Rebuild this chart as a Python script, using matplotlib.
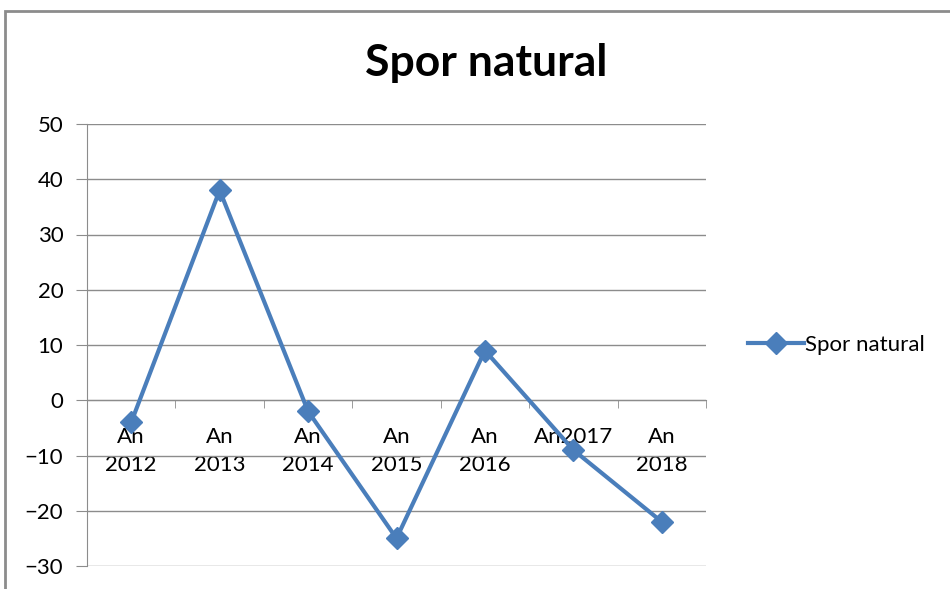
import matplotlib.pyplot as plt
from matplotlib.patches import Rectangle
import numpy as np

# datele graficului
categories = ["An\n2012", "An\n2013", "An\n2014", "An\n2015", "An\n2016", "An2017", "An\n2018"]
values = [-4, 38, -2, -25, 9, -9, -22]
series_name = "Spor natural"
y_ticks = [-30, -20, -10, 0, 10, 20, 30, 40, 50]

plt.rcParams['font.family'] = ['Lato', 'DejaVu Sans']

fig = plt.figure(figsize=(9.5, 5.89), dpi=100)
ax = fig.add_axes([87 / 950, 1 - 566 / 589, (706 - 87) / 950, (566 - 124) / 589])

# chenarul graficului
fig.patches.append(Rectangle((5 / 950, -0.1), 1.2, 1 - 11 / 589 + 0.1, transform=fig.transFigure,
                             fill=False, edgecolor="#8c8c8c", linewidth=2))

x = np.arange(len(categories))
line_color = "#4a7ebb"
ax.plot(x, values, color=line_color, linewidth=3, marker="D", markersize=11,
        label=series_name, zorder=3)

ax.set_xlim(-0.5, len(categories) - 0.5)
ax.set_ylim(-30, 50)
ax.set_yticks(y_ticks)
ax.yaxis.grid(True, color="#8c8c8c", linewidth=1)
ax.set_axisbelow(True)

for s in ["top", "right"]:
    ax.spines[s].set_visible(False)
ax.spines["bottom"].set_position(("data", 0))
ax.spines["bottom"].set_color("#8c8c8c")
ax.spines["left"].set_color("#8c8c8c")

ax.set_xticks(x)
ax.set_xticklabels(categories, fontsize=16, linespacing=1.55)
ax.set_xticks(np.arange(-0.5, len(categories)), minor=True)
ax.tick_params(axis="x", which="major", length=0, pad=19)
ax.tick_params(axis="x", which="minor", length=6, color="#8c8c8c")
ax.tick_params(axis="y", length=8, color="#8c8c8c", labelsize=16, pad=9)

fig.text(486 / 950, 1 - 63 / 589, "Spor natural", ha="center", va="center",
         fontsize=32, fontweight="bold")

ax.legend(loc="center left", bbox_to_anchor=(728 / 950, 1 - 345 / 589),
          bbox_transform=fig.transFigure, frameon=False, fontsize=16,
          handlelength=2.5, handletextpad=0.05)

fig.savefig("out.png", dpi=100)
